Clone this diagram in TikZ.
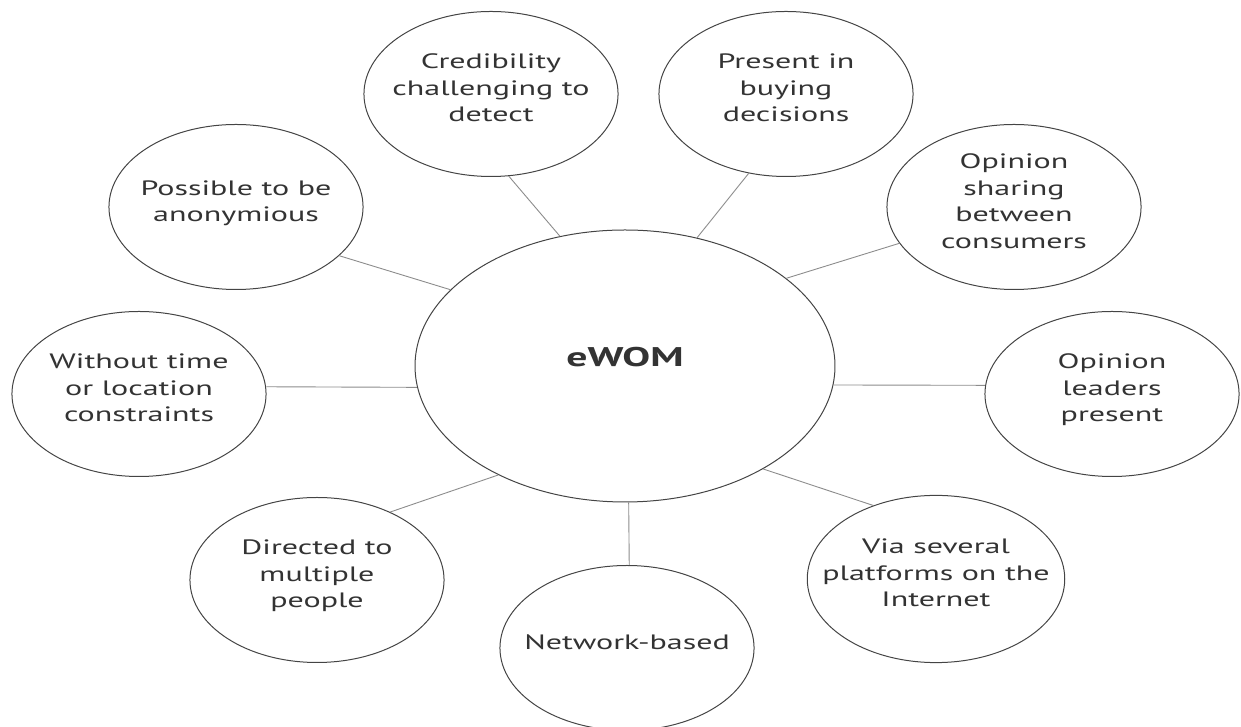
\documentclass[tikz,border=0pt]{standalone}
\usepackage{fontspec}
\setmainfont{PT Sans}
\definecolor{ringgray}{HTML}{444444}
\definecolor{linkgray}{HTML}{8C8C8C}
\definecolor{textgray}{HTML}{333333}
% stacked, centred lines whose block sits slightly above the middle of its bubble
\newcommand\bubbletext[1]{\raisebox{4pt}[\height][\depth]{\begin{tabular}{@{}c@{}}#1\end{tabular}}}
\begin{document}
\begin{tikzpicture}[x=1pt,y=1pt,
  bubble/.style={circle, draw=ringgray, line width=1pt, minimum size=165pt,
    inner sep=0pt, xscale=1.54, text=textgray,
    font=\fontsize{20.8}{26.5}\selectfont},
  hub/.style={circle, draw=ringgray, line width=1pt, minimum size=272pt,
    inner sep=0pt, xscale=1.544, text=textgray, text depth=18pt,
    font=\fontsize{27}{31}\selectfont\bfseries},
  link/.style={draw=linkgray, line width=0.9pt}]
\useasboundingbox (0,0) rectangle (1241,727);

% central concept
\node[hub] (ewom) at (625,361) {eWOM};

% surrounding characteristics
\node[bubble] (cred)     at (491,633)  {\bubbletext{Credibility\\challenging to\\detect}};
\node[bubble] (pres)     at (786,633)  {\bubbletext{Present in\\buying\\decisions}};
\node[bubble] (anon)     at (236,520)  {\bubbletext{Possible to be\\anonymious}};
\node[bubble] (share)    at (1014,520) {\bubbletext{Opinion\\sharing\\between\\consumers}};
\node[bubble] (without)  at (139,333)  {\bubbletext{Without time\\or location\\constraints}};
\node[bubble] (leaders)  at (1112,333) {\bubbletext{Opinion\\leaders\\present}};
\node[bubble] (directed) at (317,147)  {\bubbletext{Directed to\\multiple\\people}};
\node[bubble] (via)      at (936,148)  {\bubbletext{Via several\\platforms on the\\Internet}};
\node[bubble] (network)  at (627,79)   {\bubbletext{Network-based}};

% spokes
\draw[link] (cred.278)     -- (ewom.108);
\draw[link] (anon.324)     -- (ewom.146);
\draw[link] (pres.253)     -- (ewom.70);
\draw[link] (share.206)    -- (ewom.40);
\draw[link] (without.5)    -- (ewom.189);
\draw[link] (leaders.174)  -- (ewom.352);
\draw[link] (directed.55)  -- (ewom.233);
\draw[link] (network.89)   -- (ewom.271);
\draw[link] (via.119)      -- (ewom.311);
\end{tikzpicture}
\end{document}
